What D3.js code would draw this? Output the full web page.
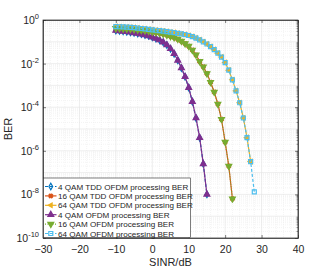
<!DOCTYPE html>
<html>
<head>
<meta charset="utf-8">
<script src="https://cdn.jsdelivr.net/npm/d3@7"></script>
<style>
  body { margin: 0; background: #fff; }
  text { font-family: "Liberation Sans", Arial, sans-serif; fill: #262626; }
</style>
</head>
<body>
<svg id="chart"></svg>
<script>
// SINR points (dB)
const snr4 = d3.range(-10, 16);
const snr16 = d3.range(-10, 23);
const snr64 = d3.range(-10, 29);
const snr64Tdd = d3.range(-10, 28);

// BER
const ber4 = [0.331, 0.316, 0.302, 0.288, 0.275, 0.257, 0.240, 0.224, 0.204, 0.186,
  0.162, 0.141, 0.120, 0.0955, 0.0708, 0.0479, 0.0282, 0.0141, 6.3e-3, 2.5e-3,
  7.9e-4, 1.8e-4, 3.2e-5, 4.0e-6, 2.5e-7, 1.0e-8];
const ber16 = [0.417, 0.407, 0.398, 0.389, 0.380, 0.372, 0.355, 0.339, 0.324, 0.309,
  0.288, 0.269, 0.251, 0.229, 0.204, 0.178, 0.158, 0.132, 0.107, 0.0832,
  0.0631, 0.0417, 0.0251, 0.0126, 7.1e-3, 3.5e-3, 1.4e-3, 5.0e-4, 1.4e-4, 2.8e-5,
  2.5e-6, 2.0e-7, 6.3e-9];
const ber64 = [0.501, 0.490, 0.479, 0.468, 0.457, 0.447, 0.427, 0.407, 0.389, 0.372,
  0.355, 0.339, 0.324, 0.309, 0.295, 0.275, 0.263, 0.245, 0.229, 0.214,
  0.195, 0.174, 0.148, 0.123, 0.100, 0.0794, 0.0603, 0.0437, 0.0302, 0.0200,
  0.0112, 5.0e-3, 1.8e-3, 5.6e-4, 1.6e-4, 3.2e-5, 4.0e-6, 3.2e-7, 1.3e-8];
// TDD curves sit on top of the plain OFDM ones
const ber4Tdd = ber4.slice();
const ber16Tdd = ber16.slice();
const ber64Tdd = ber64.slice(0, snr64Tdd.length);

const xTicks = [-30, -20, -10, 0, 10, 20, 30, 40];
const yTickExp = [0, -2, -4, -6, -8, -10];
const legendLabels = [
  '4 QAM TDD OFDM processing BER',
  '16 QAM TDD OFDM processing BER',
  '64 QAM TDD OFDM processing BER',
  '4 QAM OFDM processing BER',
  '16 QAM OFDM processing BER',
  '64 QAM OFDM processing BER'
];

const width = 330, height = 270;
const mLeft = 43, mRight = 298, mTop = 20, mBottom = 238;

const svg = d3.select('#chart').attr('width', width).attr('height', height);

const x = d3.scaleLinear().domain([-30, 40]).range([mLeft, mRight]);
const y = d3.scaleLog().domain([1e-10, 1]).range([mBottom, mTop]);

// grid
const grid = svg.append('g');
const minorY = [];
for (let e = -10; e < 0; e++) for (let m = 2; m <= 9; m++) minorY.push(m * Math.pow(10, e));
grid.selectAll('.my').data(minorY).enter().append('line')
  .attr('x1', mLeft).attr('x2', mRight)
  .attr('y1', d => y(d)).attr('y2', d => y(d))
  .attr('stroke', '#ececec').attr('stroke-width', 0.6).attr('stroke-dasharray', '1,1');
grid.selectAll('.mx').data(d3.range(-30, 41, 2).filter(v => v % 10 !== 0)).enter().append('line')
  .attr('x1', d => x(d)).attr('x2', d => x(d))
  .attr('y1', mTop).attr('y2', mBottom)
  .attr('stroke', '#ececec').attr('stroke-width', 0.6).attr('stroke-dasharray', '1,1');
grid.selectAll('.gy').data(d3.range(-9, 0)).enter().append('line')
  .attr('x1', mLeft).attr('x2', mRight)
  .attr('y1', d => y(Math.pow(10, d))).attr('y2', d => y(Math.pow(10, d)))
  .attr('stroke', '#e3e3e3').attr('stroke-width', 0.6);
grid.selectAll('.gx').data(xTicks).enter().append('line')
  .attr('x1', d => x(d)).attr('x2', d => x(d))
  .attr('y1', mTop).attr('y2', mBottom)
  .attr('stroke', '#e3e3e3').attr('stroke-width', 0.6);

// axes
const xAxis = d3.axisBottom(x).tickValues(xTicks).tickSizeInner(-3).tickSizeOuter(0).tickPadding(8);
const gx = svg.append('g').attr('transform', `translate(0,${mBottom})`).call(xAxis);
gx.selectAll('text').attr('font-size', 10.5).style('font-family', '"Liberation Sans", Arial, sans-serif').attr('fill', '#262626');
const yAxis = d3.axisLeft(y).tickValues(yTickExp.map(e => Math.pow(10, e))).tickSizeInner(-3).tickSizeOuter(0).tickFormat('');
svg.append('g').attr('transform', `translate(${mLeft},0)`).call(yAxis);
svg.append('g').attr('transform', `translate(0,${mTop})`)
  .call(d3.axisTop(x).tickValues(xTicks).tickSizeInner(-3).tickSizeOuter(0).tickFormat(''));
svg.append('g').attr('transform', `translate(${mRight},0)`)
  .call(d3.axisRight(y).tickValues(yTickExp.map(e => Math.pow(10, e))).tickSizeInner(-3).tickSizeOuter(0).tickFormat(''));
svg.selectAll('.domain').attr('stroke', '#262626').attr('stroke-width', 0.7);
svg.selectAll('.tick line').attr('stroke', '#262626').attr('stroke-width', 0.6);
// minor y ticks on the right side
svg.append('g').selectAll('line').data(minorY).enter().append('line')
  .attr('x1', mRight).attr('x2', mRight - 1.5)
  .attr('y1', d => y(d)).attr('y2', d => y(d))
  .attr('stroke', '#262626').attr('stroke-width', 0.5);

// y tick labels as 10^n
const yl = svg.append('g').selectAll('text').data(yTickExp).enter().append('text')
  .attr('x', mLeft - 4).attr('y', d => y(Math.pow(10, d)) + 4)
  .attr('text-anchor', 'end').attr('font-size', 10.5);
yl.append('tspan').text('10');
yl.append('tspan').attr('dy', -5).attr('font-size', 7.5).text(d => d);

svg.append('rect').attr('x', mLeft).attr('y', mTop).attr('width', mRight - mLeft).attr('height', mBottom - mTop)
  .attr('fill', 'none').attr('stroke', '#262626').attr('stroke-width', 0.7);

svg.append('text').attr('x', (mLeft + mRight) / 2).attr('y', 266).attr('text-anchor', 'middle')
  .attr('font-size', 11).text('SINR/dB');
svg.append('text').attr('transform', `translate(12,${(mTop + mBottom) / 2}) rotate(-90)`)
  .attr('text-anchor', 'middle').attr('font-size', 11).text('BER');

// markers
const sym = {
  diamond: d3.symbol().type(d3.symbolDiamond).size(12),
  star: d3.symbol().type(d3.symbolCross).size(9),
  left: d3.symbol().type(d3.symbolTriangle).size(9),
  up: d3.symbol().type(d3.symbolTriangle).size(15),
  down: d3.symbol().type(d3.symbolTriangle).size(15),
  square: d3.symbol().type(d3.symbolSquare).size(16)
};
const rot = { diamond: 0, star: 45, left: -90, up: 0, down: 180, square: 0 };

const series = [
  { xs: snr4, ys: ber4Tdd, color: '#0072BD', dash: '3,2', marker: 'diamond', fill: 'none' },
  { xs: snr16, ys: ber16Tdd, color: '#D95319', dash: null, marker: 'star', fill: '#D95319' },
  { xs: snr64Tdd, ys: ber64Tdd, color: '#EDB120', dash: null, marker: 'left', fill: '#EDB120' },
  { xs: snr4, ys: ber4, color: '#7E2F8E', dash: null, marker: 'up', fill: '#7E2F8E' },
  { xs: snr16, ys: ber16, color: '#77AC30', dash: '1,1.5', marker: 'down', fill: '#77AC30' },
  { xs: snr64, ys: ber64, color: '#4DBEEE', dash: '3,2', marker: 'square', fill: 'none' }
];

const line = d3.line().x(d => x(d[0])).y(d => y(d[1]));
series.forEach(s => {
  const pts = s.xs.map((v, i) => [v, s.ys[i]]);
  const g = svg.append('g');
  g.append('path').datum(pts).attr('d', line)
    .attr('fill', 'none').attr('stroke', s.color).attr('stroke-width', 1.2)
    .attr('stroke-dasharray', s.dash);
  g.selectAll('path.m').data(pts).enter().append('path').attr('class', 'm')
    .attr('d', sym[s.marker])
    .attr('transform', d => `translate(${x(d[0])},${y(d[1])}) rotate(${rot[s.marker]})`)
    .attr('fill', s.fill).attr('stroke', s.color).attr('stroke-width', 1.2);
});

// legend
const lg = svg.append('g');
const lgX = mLeft + 0.5, lgY = 178, lgW = 147, lgH = mBottom - lgY;
lg.append('rect').attr('x', lgX).attr('y', lgY).attr('width', lgW).attr('height', lgH - 0.5)
  .attr('fill', '#fff').attr('stroke', '#262626').attr('stroke-width', 0.6);
series.forEach((s, i) => {
  const cy = lgY + 8.5 + i * 9.4;
  lg.append('line').attr('x1', lgX + 1.5).attr('x2', lgX + 13).attr('y1', cy).attr('y2', cy)
    .attr('stroke', s.color).attr('stroke-width', 1.2).attr('stroke-dasharray', s.dash);
  lg.append('path').attr('d', sym[s.marker])
    .attr('transform', `translate(${lgX + 7.3},${cy}) rotate(${rot[s.marker]})`)
    .attr('fill', s.fill).attr('stroke', s.color).attr('stroke-width', 1.2);
  lg.append('text').attr('x', lgX + 14.5).attr('y', cy + 3).attr('font-size', 8.1)
    .text(legendLabels[i]);
});
</script>
</body>
</html>
